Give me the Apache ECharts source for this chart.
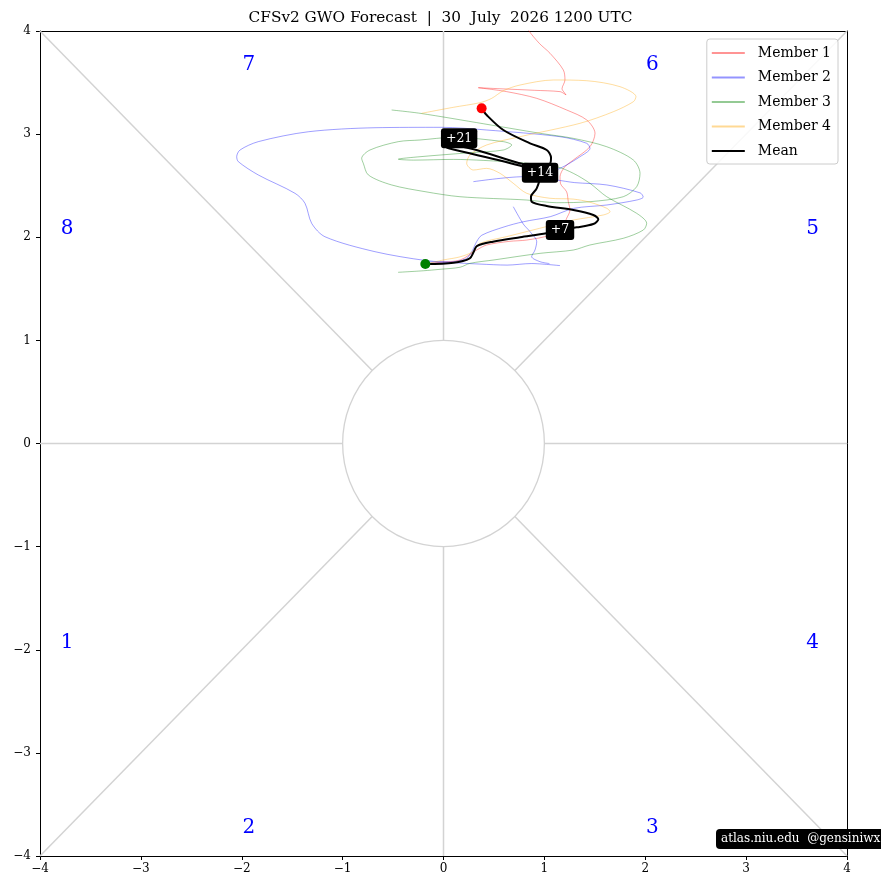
<!DOCTYPE html>
<html>
<head>
<meta charset="utf-8">
<script src="https://cdn.jsdelivr.net/npm/echarts@6/dist/echarts.min.js"></script>
<style>
html,body{margin:0;padding:0;background:#fff;}
#chart{width:881px;height:890px;}
</style>
</head>
<body>
<div id="chart"></div>
<script>
// ---------------- data ----------------
const titleText = 'CFSv2 GWO Forecast  |  30  July  2026 1200 UTC';
const axisTicks = [-4, -3, -2, -1, 0, 1, 2, 3, 4];

const meanPath = [[-0.18,1.74],[0.1,1.753],[0.26,1.796],[0.3,1.86],[0.33,1.915],[0.49,1.957],[0.76,2.0],[1.02,2.038],[1.155,2.07],[1.32,2.096],[1.485,2.128],[1.535,2.174],[1.485,2.216],[1.287,2.264],[1.023,2.303],[0.874,2.345],[0.867,2.393],[0.924,2.474],[0.957,2.6],[0.79,2.685],[0.06,2.86],[0.03,2.875],[0.06,2.89],[0.79,2.71],[1.0,2.68],[1.06,2.72],[1.066,2.77],[1.023,2.846],[0.858,2.911],[0.593,3.04],[0.428,3.185],[0.378,3.25]];
const meanStart = [[-0.18,1.74]];
const meanEnd = [[0.378,3.25]];
const dayLabels = [[1.155,2.07,'+7'],[0.957,2.626,'+14'],[0.155,2.96,'+21']];

const member1 = [[-0.18,1.74],[-0.035,1.757],[0.164,1.779],[0.329,1.876],[0.428,1.925],[0.65,1.96],[0.825,1.973],[1.056,2.022],[1.188,2.119],[1.221,2.184],[1.254,2.264],[1.237,2.345],[1.221,2.44],[1.16,2.52],[1.155,2.587],[1.2,2.68],[1.287,2.749],[1.452,2.878],[1.502,3.008],[1.42,3.137],[1.221,3.234],[0.924,3.347],[0.626,3.412],[0.345,3.45],[0.56,3.44],[0.9,3.425],[1.155,3.412],[1.2,3.39],[1.215,3.38],[1.2,3.4],[1.175,3.44],[1.204,3.525],[1.188,3.622],[1.056,3.784],[0.95,3.88],[0.841,4.01],[0.8,4.1]];

const member2a = [[-0.18,1.76],[0.05,1.76],[0.22,1.79],[0.28,1.86],[0.33,1.96],[0.38,2.02],[0.6,2.1],[0.79,2.15],[1.06,2.2],[1.29,2.28],[1.62,2.313],[1.915,2.361],[1.98,2.39],[1.95,2.43],[1.62,2.507],[1.3,2.53],[1.12,2.555],[0.79,2.587],[0.296,2.539]];
const member2b = [[0.95,2.6],[1.155,2.668],[1.353,2.781],[1.452,2.862],[1.42,2.911],[1.155,2.975],[0.428,3.04],[-0.018,3.066],[-0.679,3.062],[-1.34,3.023],[-1.836,2.927],[-2.017,2.846],[-2.05,2.781],[-2.034,2.733],[-1.836,2.604],[-1.472,2.426],[-1.373,2.329],[-1.307,2.135],[-1.175,2.005],[-0.679,1.86],[-0.18,1.775],[0.16,1.75],[0.36,1.74],[0.63,1.73],[0.87,1.745],[1.155,1.725]];
const member2c = [[0.692,2.296],[0.791,2.128],[0.858,2.054],[0.924,1.957],[0.907,1.876],[0.874,1.812],[0.957,1.763],[1.05,1.745]];

const member3 = [[-0.45,1.66],[-0.2,1.675],[-0.035,1.689],[0.164,1.709],[0.263,1.747],[0.5,1.78],[0.957,1.844],[1.287,1.876],[1.452,1.925],[1.782,1.99],[1.981,2.07],[2.014,2.135],[1.915,2.232],[1.618,2.393],[1.452,2.523],[1.287,2.62],[1.122,2.684],[0.8,2.72],[0.4,2.745],[0.1,2.755],[-0.3,2.748],[-0.448,2.757],[-0.233,2.781],[0.263,2.82],[0.593,2.846],[0.676,2.895],[0.593,2.927],[0.097,2.969],[-0.233,2.943],[-0.448,2.927],[-0.729,2.846],[-0.811,2.765],[-0.795,2.717],[-0.745,2.604],[-0.514,2.507],[-0.183,2.442],[0.164,2.393],[0.825,2.361],[1.122,2.335],[1.452,2.345],[1.782,2.393],[1.915,2.49],[1.948,2.62],[1.882,2.749],[1.618,2.878],[1.287,2.959],[0.957,3.008],[0.4,3.1],[-0.233,3.202],[-0.514,3.234]];

const member4 = [[-0.18,1.74],[0.0,1.78],[0.164,1.81],[0.29,1.86],[0.362,1.941],[0.626,2.006],[1.056,2.112],[1.287,2.167],[1.584,2.216],[1.651,2.248],[1.618,2.281],[1.45,2.34],[1.287,2.37],[1.056,2.378],[0.825,2.426],[0.692,2.523],[0.56,2.62],[0.428,2.668],[0.296,2.652],[0.23,2.717],[0.263,2.798],[0.428,2.895],[0.758,2.975],[1.353,3.105],[1.683,3.217],[1.882,3.314],[1.908,3.363],[1.75,3.46],[1.42,3.518],[1.089,3.525],[0.758,3.476],[0.593,3.421],[0.478,3.347],[0.362,3.305],[0.097,3.26],[-0.216,3.202]];

const phaseLabels = [[-1.93,3.67,'7'],[2.07,3.67,'6'],[-3.73,2.08,'8'],[3.66,2.08,'5'],[-3.73,-1.93,'1'],[3.66,-1.93,'4'],[-1.93,-3.73,'2'],[2.07,-3.73,'3']];

const spokes = [
  [[0,1],[0,4]], [[0,-1],[0,-4]], [[1,0],[4,0]], [[-1,0],[-4,0]],
  [[0.7071,0.7071],[4,4]], [[-0.7071,0.7071],[-4,4]],
  [[0.7071,-0.7071],[4,-4]], [[-0.7071,-0.7071],[-4,-4]]
];

// ---------------- chart ----------------
const FONT = '"DejaVu Serif", "Liberation Serif", serif';
const chart = echarts.init(document.getElementById('chart'));
const fmt = v => (v < 0 ? '\u2212' + Math.abs(v) : String(v));

const series = [];
spokes.forEach(s => series.push({
  type: 'line', data: s, symbol: 'none', silent: true, z: 1,
  lineStyle: {color: '#d3d3d3', width: 1.5}
}));
function memberSeries(name, data, color) {
  return {
    type: 'line', name: name, data: data, symbol: 'none', smooth: 0.3, z: 3,
    lineStyle: {color: color, width: 0.9}, itemStyle: {color: color}
  };
}
const c1 = 'rgba(255,0,0,0.42)', c2 = 'rgba(0,0,255,0.42)', c3 = 'rgba(0,128,0,0.42)', c4 = 'rgba(255,165,0,0.42)';
series.push(memberSeries('Member 1', member1, c1));
series.push(memberSeries('Member 2', member2a, c2));
series.push(memberSeries('Member 2', member2b, c2));
series.push(memberSeries('Member 2', member2c, c2));
series.push(memberSeries('Member 3', member3, c3));
series.push(memberSeries('Member 4', member4, c4));
series.push({
  type: 'line', name: 'Mean', data: meanPath, symbol: 'none', smooth: 0.3, z: 5,
  lineStyle: {color: '#000', width: 2}, itemStyle: {color: '#000'}
});
series.push({type: 'scatter', name: 'start', data: meanStart, symbolSize: 10, z: 6, itemStyle: {color: '#008000', opacity: 1}});
series.push({type: 'scatter', name: 'end', data: meanEnd, symbolSize: 10, z: 6, itemStyle: {color: '#ff0000', opacity: 1}});
series.push({
  type: 'scatter', name: 'days', data: dayLabels, symbolSize: 0, z: 8,
  itemStyle: {opacity: 1},
  label: {
    show: true, position: 'inside', formatter: p => p.data[2],
    color: '#fff', backgroundColor: '#000', padding: [4, 5, 3, 5], borderRadius: 3,
    fontFamily: FONT, fontSize: 12.5, opacity: 1
  }
});
series.push({
  type: 'scatter', name: 'phases', data: phaseLabels, symbolSize: 0, z: 4, silent: true,
  itemStyle: {opacity: 1},
  label: {show: true, position: 'inside', formatter: p => p.data[2], color: '#0000ff', fontFamily: FONT, fontSize: 20, opacity: 1}
});

const option = {
  animation: false,
  backgroundColor: '#fff',
  title: {
    text: titleText, left: 'center', top: 6,
    textStyle: {fontFamily: FONT, fontSize: 15.3, fontWeight: 'normal', color: '#000'}
  },
  grid: {left: 40, right: 34, top: 31, bottom: 34, containLabel: false},
  legend: {
    data: ['Member 1', 'Member 2', 'Member 3', 'Member 4', 'Mean'],
    orient: 'vertical', right: 43, top: 39,
    itemWidth: 33, itemHeight: 12, itemGap: 10.5,
    padding: [7, 7, 6, 4],
    itemStyle: {opacity: 0},
    borderColor: '#cccccc', borderWidth: 1, borderRadius: 3, backgroundColor: 'rgba(255,255,255,0.85)',
    textStyle: {fontFamily: FONT, fontSize: 14, color: '#000', padding: [0, 0, 0, 8]}
  },
  xAxis: [{
    type: 'value', min: -4, max: 4, interval: 1,
    axisLine: {onZero: false, lineStyle: {color: '#000', width: 1}},
    axisTick: {show: true, length: 4, lineStyle: {color: '#000'}},
    axisLabel: {formatter: fmt, color: '#000', fontFamily: FONT, fontSize: 12, margin: 7},
    splitLine: {show: false}
  }, {
    type: 'value', min: -4, max: 4, position: 'top',
    axisLine: {onZero: false, lineStyle: {color: '#000', width: 1}},
    axisTick: {show: false}, axisLabel: {show: false}, splitLine: {show: false}
  }],
  yAxis: [{
    type: 'value', min: -4, max: 4, interval: 1,
    axisLine: {onZero: false, lineStyle: {color: '#000', width: 1}},
    axisTick: {show: true, length: 4, lineStyle: {color: '#000'}},
    axisLabel: {formatter: fmt, color: '#000', fontFamily: FONT, fontSize: 12, margin: 9},
    splitLine: {show: false}
  }, {
    type: 'value', min: -4, max: 4, position: 'right',
    axisLine: {onZero: false, lineStyle: {color: '#000', width: 1}},
    axisTick: {show: false}, axisLabel: {show: false}, splitLine: {show: false}
  }],
  series: series
};
chart.setOption(option);

// unit circle and watermark
const c0 = chart.convertToPixel({xAxisIndex: 0, yAxisIndex: 0}, [0, 0]);
const c11 = chart.convertToPixel({xAxisIndex: 0, yAxisIndex: 0}, [1, 1]);
const rx = c11[0] - c0[0], ry = c0[1] - c11[1];
chart.setOption({
  graphic: [{
    type: 'circle', x: c0[0], y: c0[1], scaleY: ry / rx, z: 1,
    shape: {cx: 0, cy: 0, r: rx},
    style: {fill: '#fff', stroke: '#d3d3d3', lineWidth: 1.3}
  }, {
    type: 'text', left: 716, top: 829, z: 100,
    style: {
      text: 'atlas.niu.edu  @gensiniwx', fill: '#fff', backgroundColor: '#000',
      padding: [4, 5, 4, 5], borderRadius: 4, font: '12px ' + FONT
    }
  }]
});
</script>
</body>
</html>
